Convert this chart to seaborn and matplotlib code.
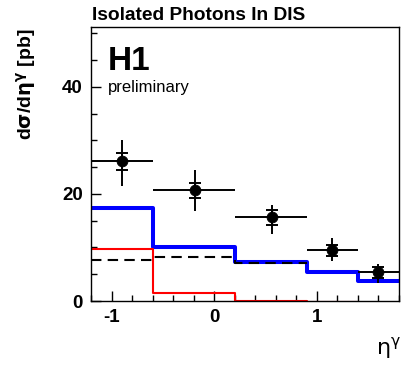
import numpy as np
import matplotlib
matplotlib.use("Agg")
import matplotlib.pyplot as plt
import seaborn as sns

# ---- data ----
bin_edges = [-1.2, -0.6, 0.2, 0.9, 1.4, 1.8]
blue_vals = [17.3, 10.0, 7.35, 5.35, 3.7]
red_edges = [-1.2, -0.6, 0.2, 0.9, 1.4]
red_vals = [9.65, 1.5, 0.05, -0.2]
dash_edges = [-1.2, -0.6, 0.2, 0.9]
dash_vals = [7.7, 8.3, 7.1]

pt_x = [-0.9, -0.19, 0.56, 1.15, 1.6]
pt_y = [26.2, 20.7, 15.7, 9.5, 5.5]
pt_xlo = [-1.2, -0.6, 0.2, 0.9, 1.4]
pt_xhi = [-0.6, 0.2, 0.9, 1.4, 1.8]
stat_lo = [24.4, 19.25, 14.2, 8.5, 4.25]
stat_hi = [27.7, 22.0, 17.0, 10.5, 6.4]
tot_lo = [21.5, 16.8, 12.5, 7.4, 3.3]
tot_hi = [30.1, 24.5, 17.9, 11.8, 6.9]

sns.set_theme(style="white")
plt.rcParams["font.family"] = ["Liberation Sans", "DejaVu Sans"]
plt.rcParams["mathtext.fontset"] = "dejavusans"
plt.rcParams["axes.unicode_minus"] = False
for key in ["text.color", "axes.labelcolor", "xtick.color", "ytick.color"]:
    plt.rcParams[key] = "black"

fig = plt.figure(figsize=(4.11, 3.68), dpi=100)
ax = fig.add_axes([91 / 411, 1 - 301 / 368, 308 / 411, 274 / 368])


def steps(edges, vals):
    return list(edges), list(vals) + [vals[-1]]


xs, ys = steps(bin_edges, blue_vals)
sns.lineplot(x=xs, y=ys, drawstyle="steps-post", color="#0000ff", lw=2.9,
             estimator=None, sort=False, ax=ax)
xs, ys = steps(red_edges, red_vals)
sns.lineplot(x=xs, y=ys, drawstyle="steps-post", color="#ff0000", lw=1.5,
             estimator=None, sort=False, ax=ax)
xs, ys = steps(dash_edges, dash_vals)
sns.lineplot(x=xs, y=ys, drawstyle="steps-post", color="black", lw=1.5,
             linestyle=(0, (5, 3)), estimator=None, sort=False, ax=ax)

px = np.array(pt_x)
py = np.array(pt_y)
xerr = [px - np.array(pt_xlo), np.array(pt_xhi) - px]
# total error, no caps
ax.errorbar(px, py, xerr=xerr,
            yerr=[py - np.array(tot_lo), np.array(tot_hi) - py],
            fmt="none", ecolor="black", elinewidth=1.4, capsize=0)
# stat error with caps
ax.errorbar(px, py, yerr=[py - np.array(stat_lo), np.array(stat_hi) - py],
            fmt="none", ecolor="black", elinewidth=1.4, capsize=4, capthick=1.4)
sns.scatterplot(x=pt_x, y=pt_y, color="black", s=60, marker="o",
                edgecolor="black", zorder=5, ax=ax)

ax.set_xlim(-1.2, 1.8)
ax.set_ylim(0, 51.2)
ax.set_xticks([-1, 0, 1])
ax.set_xticks(np.arange(-1.2, 1.81, 0.2), minor=True)
ax.set_yticks([0, 20, 40])
ax.set_yticks(np.arange(0, 51, 5), minor=True)
ax.tick_params(axis="both", which="both", direction="in", color="black",
               top=False, right=False, left=True, bottom=True)
ax.tick_params(which="major", length=7, width=1, labelsize=13.5, pad=6,
               labelcolor="black")
ax.tick_params(which="minor", length=4, width=1)
for lab in ax.get_xticklabels() + ax.get_yticklabels():
    lab.set_fontweight("bold")
for sp in ax.spines.values():
    sp.set_color("black")
    sp.set_linewidth(1)

fig.text(92 / 411, 1 - 16 / 368, "Isolated Photons In DIS", fontsize=13.8,
         fontweight="bold", ha="left", va="center", color="black")
ax.text(0.055, 0.93, "H1", transform=ax.transAxes, fontsize=24,
        fontweight="bold", ha="left", va="top", color="black")
ax.text(0.055, 0.78, "preliminary", transform=ax.transAxes, fontsize=12,
        ha="left", va="center", color="black")
fig.text(26 / 411, 1 - 84 / 368,
         r"d$\mathbf{\sigma}$/d$\mathbf{\eta}^{\mathbf{\gamma}}$ [pb]",
         rotation=90, fontsize=14, fontweight="bold", ha="center", va="center",
         color="black")
fig.text(389 / 411, 1 - 348 / 368, r"$\mathrm{\eta}^{\mathrm{\gamma}}$",
         fontsize=16, ha="center", va="center", color="black")

fig.savefig("out.png", dpi=100)
